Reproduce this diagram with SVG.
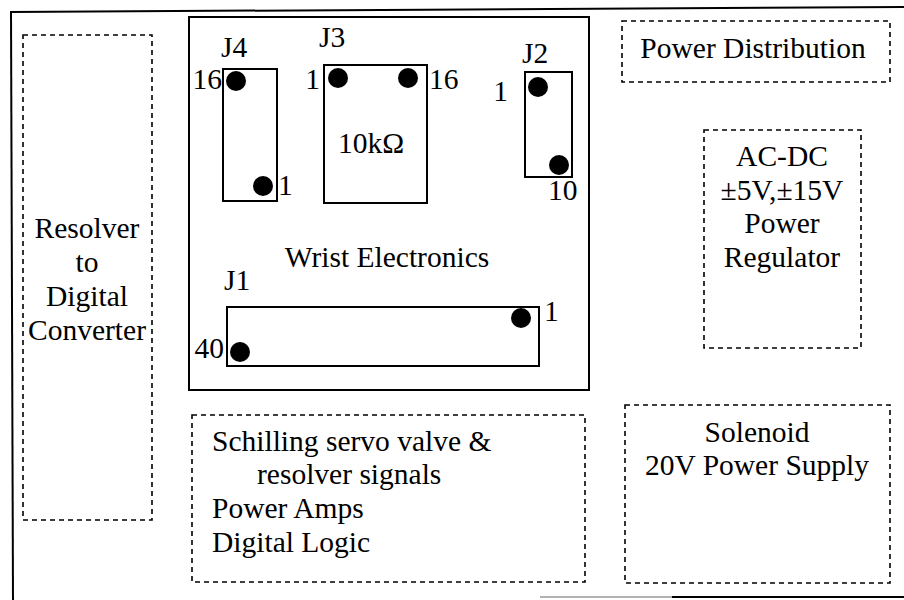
<svg xmlns="http://www.w3.org/2000/svg" width="904" height="600" viewBox="0 0 904 600">
<style>
.t{font-family:"Liberation Serif","Times New Roman",serif;font-size:29.5px;fill:#000}
.m{text-anchor:middle}
.solid{fill:none;stroke:#000;stroke-width:2}
.dash{fill:none;stroke:#000;stroke-width:1.6;stroke-dasharray:5 4}
.dot{fill:#000}
</style>
<rect width="904" height="600" fill="#fff"/>
<g id="frame">
<line x1="10" y1="12" x2="904" y2="7" stroke="#000" stroke-width="2"/>
<line x1="11" y1="11" x2="13" y2="600" stroke="#000" stroke-width="2"/>
<line x1="540" y1="597" x2="672" y2="597" stroke="#999" stroke-width="1.5"/>
<line x1="672" y1="597" x2="904" y2="597" stroke="#000" stroke-width="2"/>
</g>
<g id="resolver">
<rect class="dash" x="23" y="35" width="129" height="485"/>
<text class="t m" x="87" y="238">Resolver</text>
<text class="t m" x="87" y="272">to</text>
<text class="t m" x="87" y="306">Digital</text>
<text class="t m" x="87" y="340">Converter</text>
</g>
<g id="wrist">
<rect class="solid" x="189" y="17" width="400" height="373"/>
<text class="t m" x="387" y="267">Wrist Electronics</text>
</g>
<g id="J4">
<rect class="solid" x="223" y="69" width="54" height="132"/>
<circle class="dot" cx="236" cy="81" r="10"/>
<circle class="dot" cx="263" cy="186" r="10"/>
<text class="t" x="221" y="57">J4</text>
<text class="t" x="222" y="89" text-anchor="end">16</text>
<text class="t" x="278" y="195">1</text>
</g>
<g id="J3">
<rect class="solid" x="324" y="65" width="103" height="138"/>
<circle class="dot" cx="338" cy="78" r="10"/>
<circle class="dot" cx="408" cy="78" r="10"/>
<text class="t" x="319" y="47">J3</text>
<text class="t" x="320" y="89" text-anchor="end">1</text>
<text class="t" x="429" y="89">16</text>
<text class="t m" x="371" y="153">10kΩ</text>
</g>
<g id="J2">
<rect class="solid" x="525" y="72" width="47" height="105"/>
<circle class="dot" cx="538" cy="87" r="10"/>
<circle class="dot" cx="559" cy="165" r="10"/>
<text class="t" x="522" y="63">J2</text>
<text class="t" x="508" y="101" text-anchor="end">1</text>
<text class="t" x="548" y="200">10</text>
</g>
<g id="J1">
<rect class="solid" x="227" y="307" width="312" height="59"/>
<circle class="dot" cx="521" cy="318" r="10"/>
<circle class="dot" cx="240" cy="352" r="10"/>
<text class="t" x="224" y="290">J1</text>
<text class="t" x="544" y="321">1</text>
<text class="t" x="224" y="358" text-anchor="end">40</text>
</g>
<g id="power-distribution">
<rect class="dash" x="622" y="21" width="268" height="61"/>
<text class="t m" x="753" y="58">Power Distribution</text>
</g>
<g id="regulator">
<rect class="dash" x="704" y="130" width="157" height="218"/>
<text class="t m" x="782" y="166">AC-DC</text>
<text class="t m" x="782" y="200">±5V,±15V</text>
<text class="t m" x="782" y="233">Power</text>
<text class="t m" x="782" y="267">Regulator</text>
</g>
<g id="schilling">
<rect class="dash" x="192" y="415" width="393" height="167"/>
<text class="t" x="212" y="451">Schilling servo valve &amp;</text>
<text class="t" x="257" y="484">resolver signals</text>
<text class="t" x="212" y="518">Power Amps</text>
<text class="t" x="212" y="552">Digital Logic</text>
</g>
<g id="solenoid">
<rect class="dash" x="625" y="405" width="265" height="178"/>
<text class="t m" x="757" y="442">Solenoid</text>
<text class="t m" x="757" y="475">20V Power Supply</text>
</g>
<g id="connectors"></g>
</svg>
